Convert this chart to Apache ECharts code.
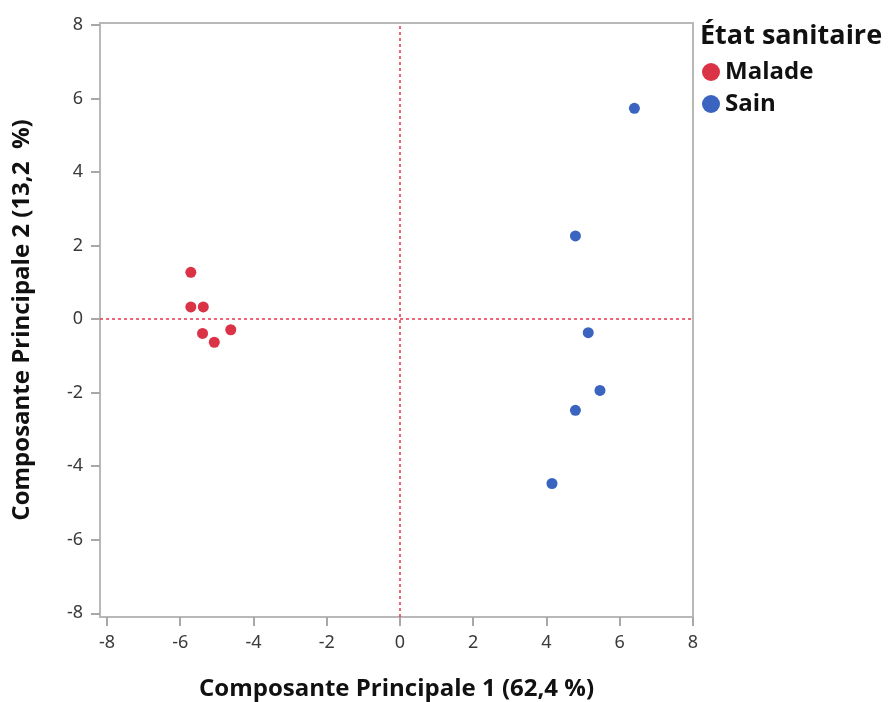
<!DOCTYPE html>
<html>
<head>
<meta charset="utf-8">
<script src="https://cdn.jsdelivr.net/npm/echarts@6/dist/echarts.min.js"></script>
<style>
  html, body { margin: 0; padding: 0; background: #fff; }
  #chart { width: 890px; height: 702px; }
</style>
</head>
<body>
<div id="chart"></div>
<script>
// tick labels
const ticks = [-8, -6, -4, -2, 0, 2, 4, 6, 8]

// Composante 1 / Composante 2 per group
const maladeX = [-5.71, -5.71, -5.37, -5.39, -5.07, -4.62]
const maladeY = [1.27, 0.33, 0.33, -0.39, -0.63, -0.29]
const sainX = [6.40, 4.79, 5.14, 5.46, 4.79, 4.15]
const sainY = [5.73, 2.26, -0.37, -1.94, -2.48, -4.47]

const legendTitle = 'État sanitaire'
const groups = ['Malade', 'Sain']

const toPoints = (xs, ys) => xs.map((x, i) => [x, ys[i]])

const chart = echarts.init(document.getElementById('chart'))

const labelStyle = {
  color: '#3a3a3a',
  fontSize: 18,
  fontFamily: 'Noto Sans',
  customValues: ticks
}

const nameStyle = {
  color: '#111',
  fontSize: 24,
  fontWeight: 'bold',
  fontFamily: 'Open Sans'
}

chart.setOption({
  animation: false,
  title: {
    text: legendTitle,
    left: 695,
    top: 18,
    textStyle: {
      color: '#111',
      fontSize: 27,
      fontWeight: 'bold',
      fontFamily: 'Open Sans'
    }
  },
  legend: {
    data: groups,
    orient: 'vertical',
    left: 697,
    top: 55,
    icon: 'circle',
    itemWidth: 18,
    itemHeight: 18,
    itemGap: 8,
    textStyle: {
      color: '#111',
      fontSize: 24,
      fontWeight: 'bold',
      fontFamily: 'Open Sans'
    }
  },
  grid: {
    left: 100,
    right: 197,
    top: 23,
    bottom: 85,
    outerBoundsMode: 'none',
    show: true,
    borderColor: '#b8b8b8',
    borderWidth: 2
  },
  xAxis: {
    type: 'value',
    min: -8.19,
    max: 8,
    name: 'Composante Principale 1 (62,4 %)',
    nameLocation: 'middle',
    nameGap: 60,
    nameTextStyle: nameStyle,
    splitLine: { show: false },
    axisLine: { onZero: false, lineStyle: { color: '#b8b8b8', width: 2 } },
    axisTick: { show: true, length: 9, customValues: ticks, lineStyle: { color: '#a8a8a8', width: 2 } },
    axisLabel: Object.assign({ margin: 17 }, labelStyle)
  },
  yAxis: {
    type: 'value',
    min: -8.1,
    max: 8.05,
    name: 'Composante Principale 2 (13,2  %)',
    nameLocation: 'middle',
    nameGap: 66,
    nameTextStyle: nameStyle,
    splitLine: { show: false },
    axisLine: { show: true, onZero: false, lineStyle: { color: '#b8b8b8', width: 2 } },
    axisTick: { show: true, length: 9, customValues: ticks, lineStyle: { color: '#a8a8a8', width: 2 } },
    axisLabel: Object.assign({ margin: 17 }, labelStyle)
  },
  series: [
    {
      name: groups[0],
      type: 'scatter',
      symbolSize: 11,
      itemStyle: { color: '#d93345', opacity: 1 },
      data: toPoints(maladeX, maladeY),
      markLine: {
        silent: true,
        symbol: 'none',
        label: { show: false },
        lineStyle: { color: '#e8334a', type: [3, 3], width: 1.5 },
        data: [{ yAxis: 0 }, { xAxis: 0 }]
      },
      z: 3
    },
    {
      name: groups[1],
      type: 'scatter',
      symbolSize: 11,
      itemStyle: { color: '#3a64c0', opacity: 1 },
      data: toPoints(sainX, sainY),
      z: 3
    }
  ]
})
</script>
</body>
</html>
